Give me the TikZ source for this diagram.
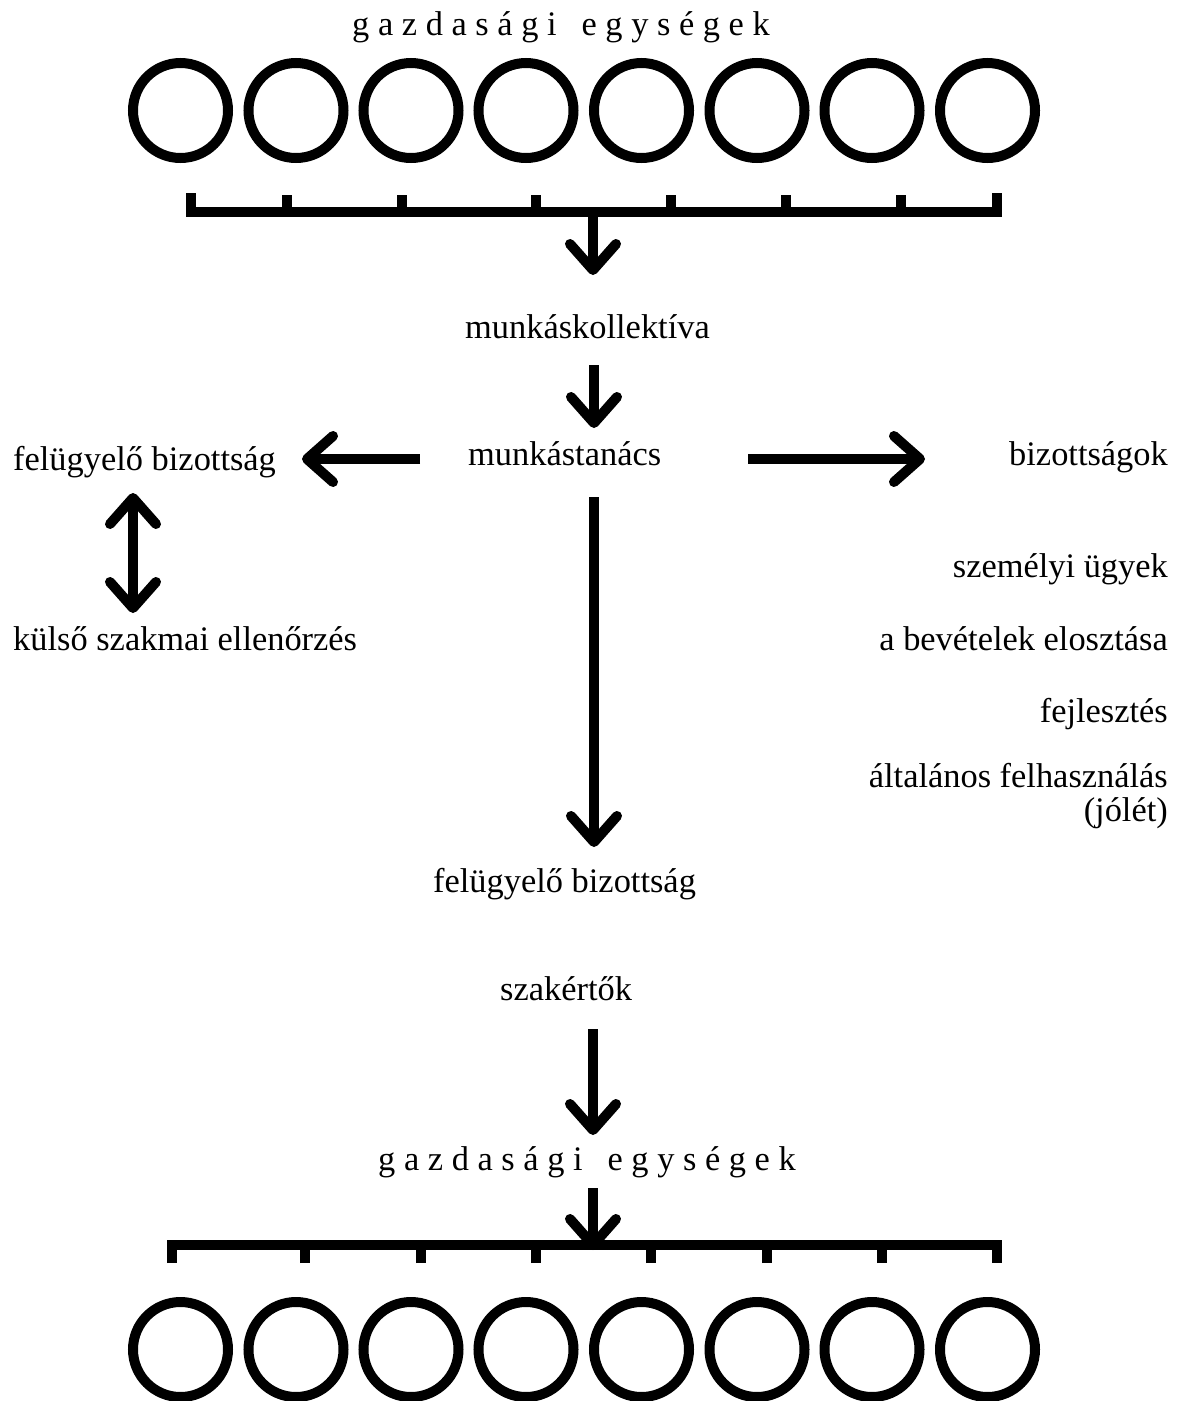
\documentclass[tikz,border=0pt]{standalone}
\usepackage{fontspec}
\setmainfont{Liberation Serif}
\usetikzlibrary{arrows.meta}
\begin{document}
\begin{tikzpicture}[x=1pt,y=-1pt,
  lbl/.style={inner sep=0pt,font=\fontsize{34.4}{34}\selectfont},
  unit/.style={draw,circle,line width=10pt,minimum size=95pt,inner sep=0pt},
  bracket/.style={line width=10pt},
  arr/.style={line width=10pt,-{Straight Barb[length=26pt,width=46pt,round]}},
  darr/.style={line width=10pt,{Straight Barb[length=26pt,width=46pt,round]}-{Straight Barb[length=26pt,width=46pt,round]}}]
\useasboundingbox (0,0) rectangle (1183,1401);
% top row
\node[lbl,anchor=base west] (gtop) at (352,35) {g a z d a s á g i\hspace{25pt}e g y s é g e k};
\foreach \x [count=\i] in {180.5,296,411,526,641.5,757,872,987.5}{
  \node[unit] (t\i) at (\x,110.5) {};
  \node[unit] (b\i) at (\x,1349.5) {};
}
\draw[bracket] (190.5,193) -- (190.5,212) -- (997,212) -- (997,193);
\foreach \x in {287,402,536,671,786,901}{ \draw[bracket] (\x,195) -- (\x,212); }
\draw[bracket] (172,1263) -- (172,1245) -- (997,1245) -- (997,1263);
\foreach \x in {305,421,536,651,767,882}{ \draw[bracket] (\x,1263) -- (\x,1245); }
% labels
\node[lbl,anchor=base west] (kol) at (465,338) {munkáskollektíva};
\node[lbl,anchor=base west] (tan) at (468,465) {munkástanács};
\node[lbl,anchor=base west] (fbl) at (13,470) {felügyelő bizottság};
\node[lbl,anchor=base west] (kse) at (13,650) {külső szakmai ellenőrzés};
\node[lbl,anchor=base east] (biz) at (1168,465) {bizottságok};
\node[lbl,anchor=base east] (szu) at (1168,577) {személyi ügyek};
\node[lbl,anchor=base east] (bev) at (1168,650) {a bevételek elosztása};
\node[lbl,anchor=base east] (fej) at (1168,722) {fejlesztés};
\node[lbl,anchor=base east,align=right] (alt) at (1168,821) {általános felhasználás\\(jólét)};
\node[lbl,anchor=base west] (fbc) at (433,892) {felügyelő bizottság};
\node[lbl,anchor=base west] (sza) at (500,1000) {szakértők};
\node[lbl,anchor=base west] (gbot) at (378,1170) {g a z d a s á g i\hspace{25pt}e g y s é g e k};
% connector end points
\coordinate (a1s) at (593,212);  \coordinate (a1e) at (593,275);
\coordinate (a2s) at (594,365);  \coordinate (a2e) at (594,428);
\coordinate (a3s) at (420,459);  \coordinate (a3e) at (302,459);
\coordinate (a4s) at (748,459);  \coordinate (a4e) at (925,459);
\coordinate (a5s) at (133,493);  \coordinate (a5e) at (133,613);
\coordinate (a6s) at (594,497);  \coordinate (a6e) at (594,847);
\coordinate (a7s) at (593,1029); \coordinate (a7e) at (593,1135);
\coordinate (a8s) at (593,1188); \coordinate (a8e) at (593,1250);
\draw[arr] (a1s) -- (a1e);
\draw[arr] (a2s) -- (a2e);
\draw[arr] (a3s) -- (a3e);
\draw[arr] (a4s) -- (a4e);
\draw[darr] (a5s) -- (a5e);
\draw[arr] (a6s) -- (a6e);
\draw[arr] (a7s) -- (a7e);
\draw[arr] (a8s) -- (a8e);
\end{tikzpicture}
\end{document}
